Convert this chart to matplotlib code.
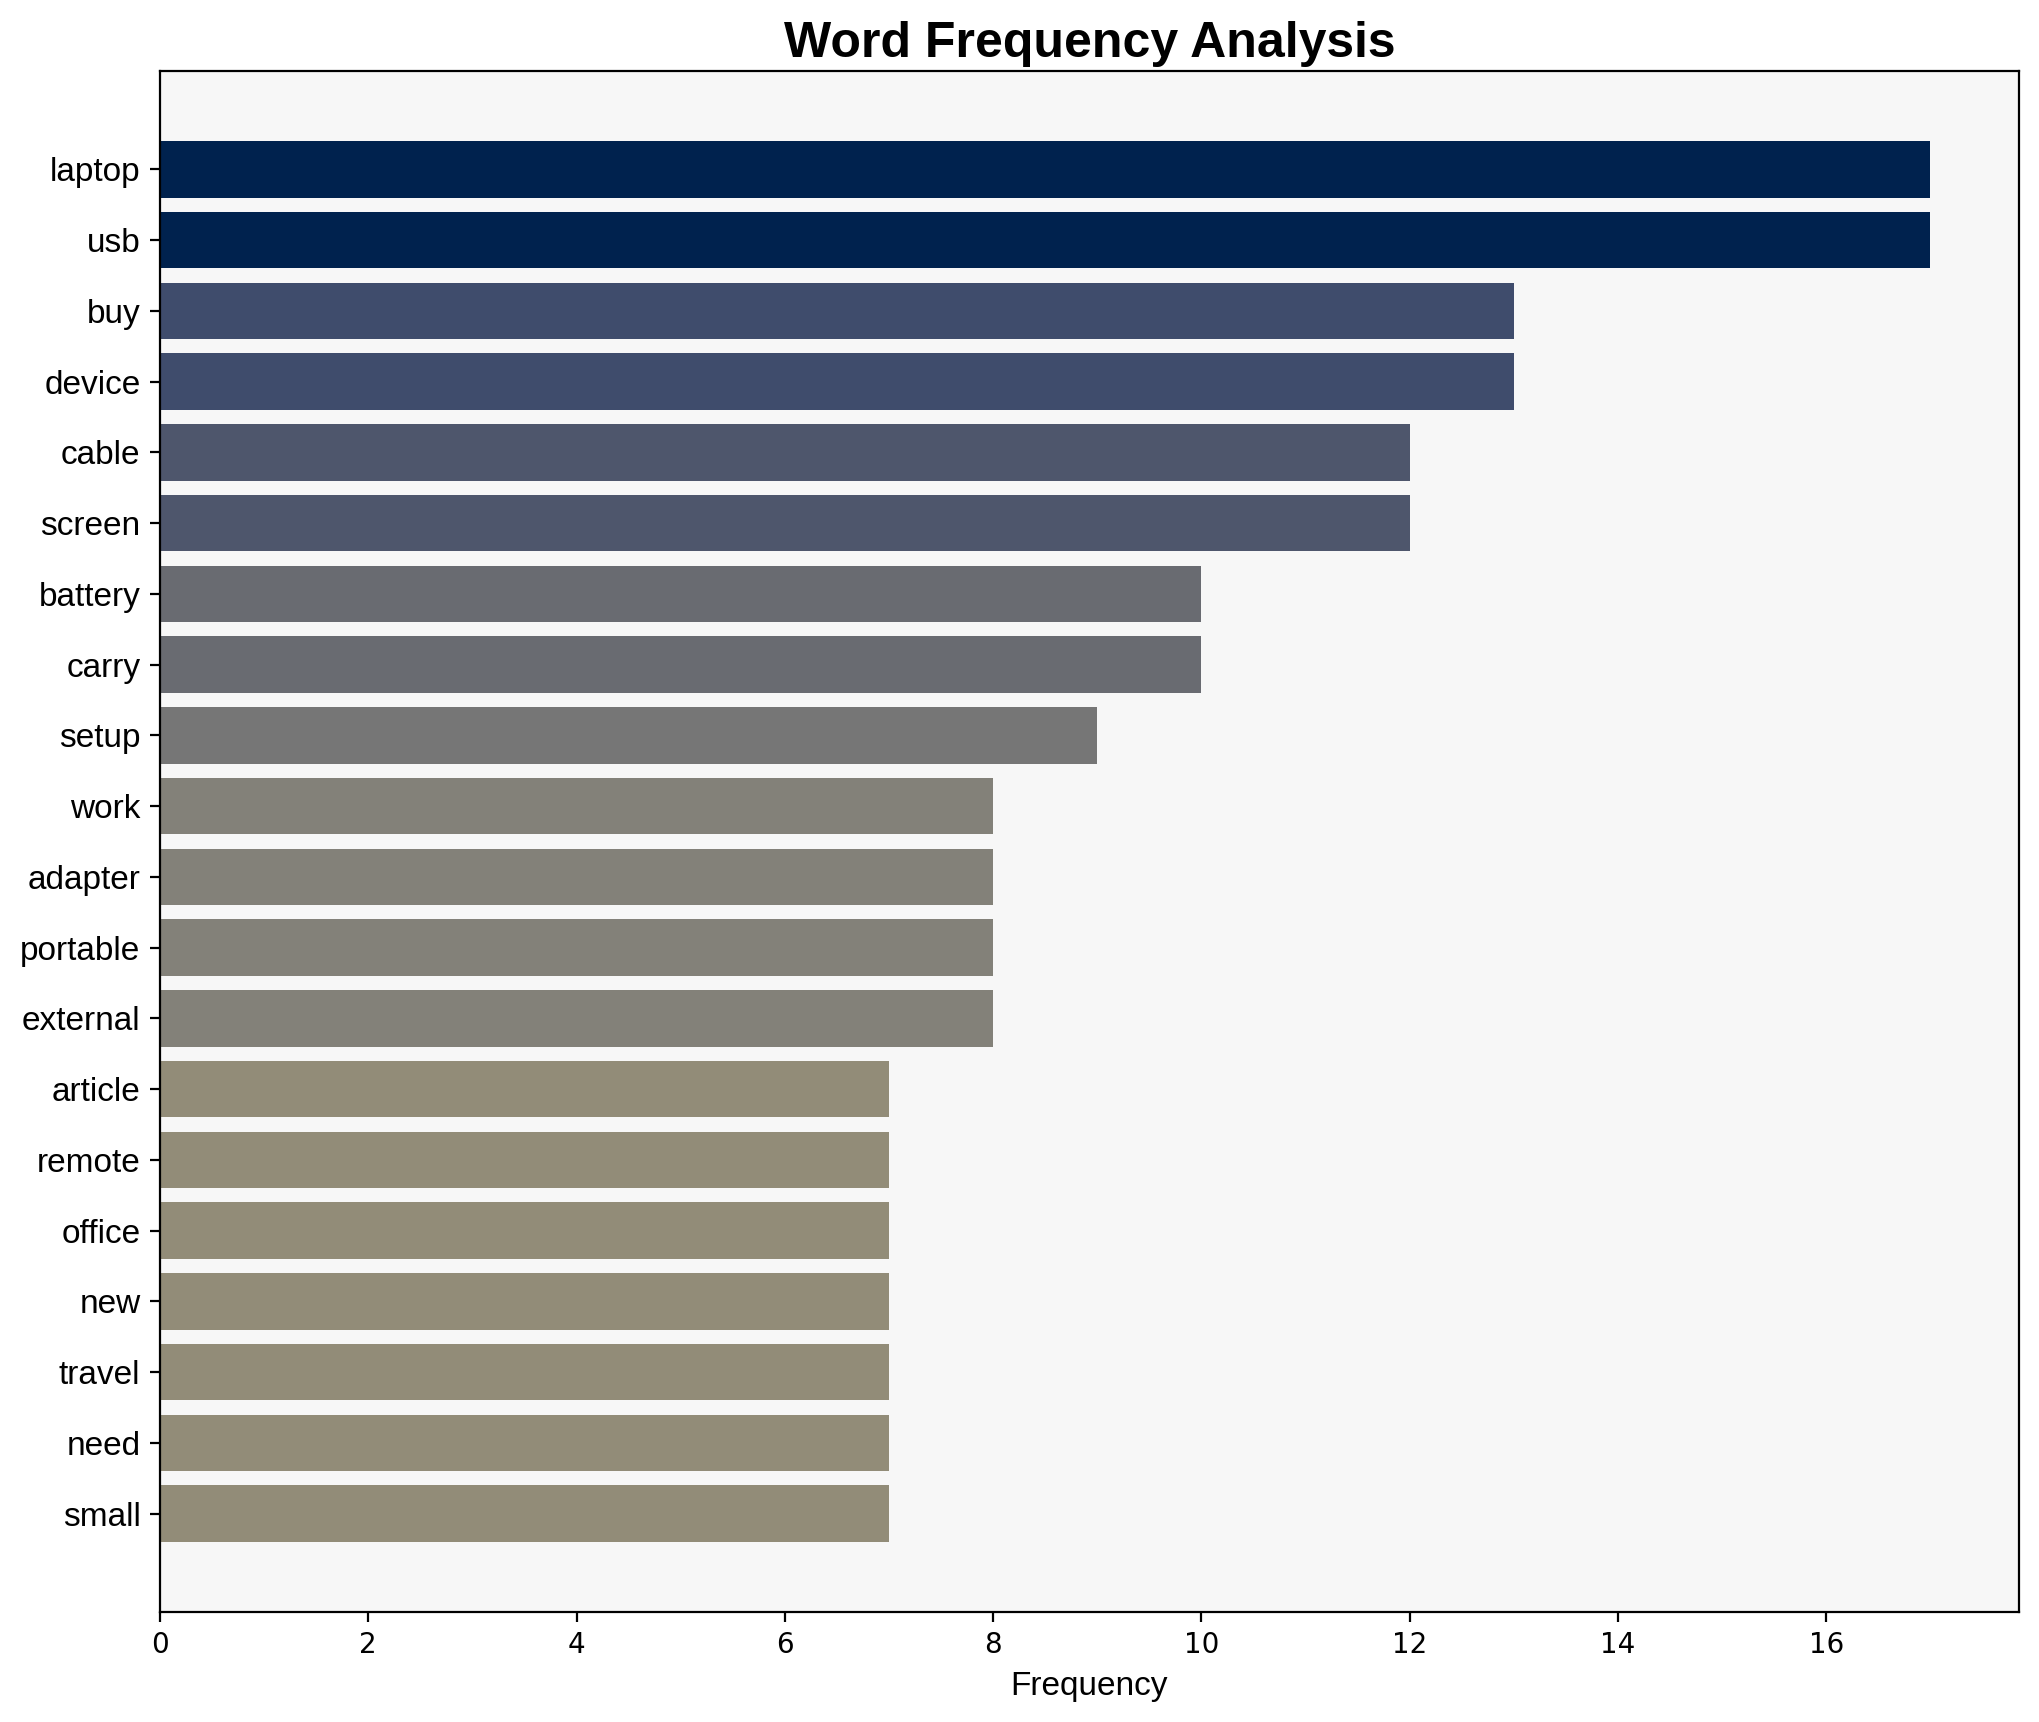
import numpy as np
import matplotlib
matplotlib.use("Agg")
import matplotlib.pyplot as plt

words = ["laptop", "usb", "buy", "device", "cable", "screen", "battery", "carry",
         "setup", "work", "adapter", "portable", "external", "article", "remote",
         "office", "new", "travel", "need", "small"]
counts = [17, 17, 13, 13, 12, 12, 10, 10, 9, 8, 8, 8, 8, 7, 7, 7, 7, 7, 7, 7]

plt.rcParams['font.family'] = ['Liberation Sans', 'DejaVu Sans']

fig, ax = plt.subplots(figsize=(10.2, 8.61))
ax.set_facecolor('#f7f7f7')

# darker bar = more frequent
colors = plt.cm.cividis(1 - np.array(counts) / max(counts))
ypos = np.arange(len(words))
ax.barh(ypos, counts, color=colors, height=0.8)
ax.set_yticks(ypos)
ax.set_yticklabels(words, fontsize=12)
ax.invert_yaxis()

for lbl in ax.get_xticklabels():
    lbl.set_fontfamily('DejaVu Sans')
ax.tick_params(axis='x', labelsize=10)

ax.set_xlabel('Frequency', fontsize=12)
ax.set_title('Word Frequency Analysis', fontsize=18, fontweight='bold', pad=5)

fig.subplots_adjust(left=0.0784, right=0.9897, top=0.9588, bottom=0.0639)
plt.savefig('out.png', dpi=200)
